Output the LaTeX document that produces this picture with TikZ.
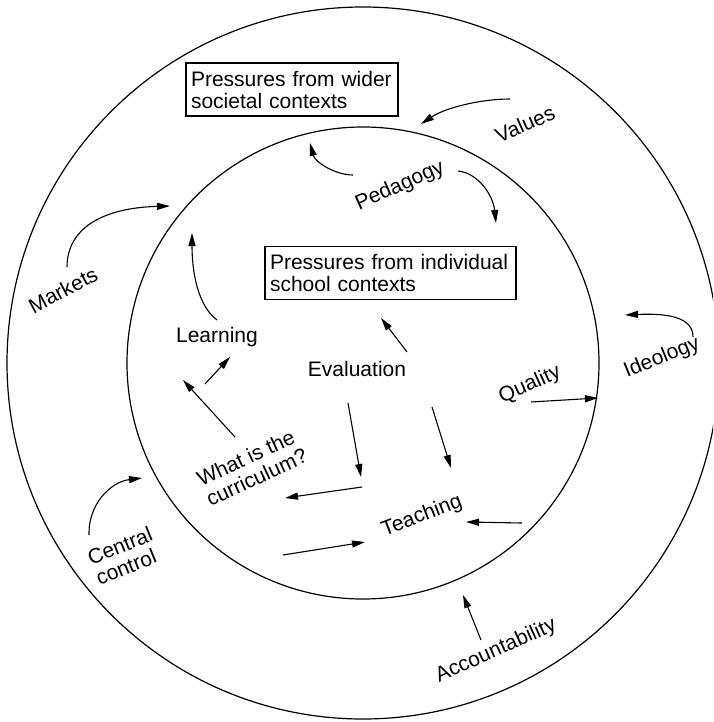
\documentclass[tikz,border=0pt]{standalone}
\usepackage{fontspec}
\setmainfont{Liberation Sans}
\usetikzlibrary{arrows.meta}
\begin{document}
\begin{tikzpicture}[x=1pt,y=-1pt,
  ring/.style={line width=1.2pt},
  lbl/.style={font=\fontsize{21}{22}\selectfont, inner sep=0pt},
  pbox/.style={lbl, draw, line width=1.1pt, align=left, inner xsep=5pt, inner ysep=0pt, minimum height=53pt},
  arr/.style={line width=1.1pt, -{Triangle[length=13pt,width=7pt]}},
]
\useasboundingbox (0,0) rectangle (713,722);
\clip (0,0) rectangle (713,722);

% circles
\coordinate (ctr) at (363,363);
\draw[ring] (ctr) circle[radius=356];
\draw[ring] (ctr) circle[radius=236];

% boxes
\node[pbox, text width=202pt] (wider) at (292,89.5) {Pressures from wider\\societal contexts};
\node[pbox, text width=241pt] (indiv) at (390.5,273) {Pressures from individual\\school contexts};

% labels
\node[lbl, rotate=24] (values) at (525,124) {Values};
\node[lbl, rotate=24] (pedagogy) at (400,186) {Pedagogy};
\node[lbl, rotate=28] (markets) at (63,290) {Markets};
\node[lbl] (learning) at (217,337) {Learning};
\node[lbl, rotate=22] (ideology) at (662,358) {Ideology};
\node[lbl] (evaluation) at (357,369) {Evaluation};
\node[lbl, rotate=25, align=left] (curriculum) at (252,467) {What is the\\curriculum?};
\node[lbl, rotate=21] (teaching) at (422,516) {Teaching};
\node[lbl, rotate=24] (quality) at (530,385) {Quality};
\node[lbl, rotate=24] (accountability) at (496,651) {Accountability};
\node[lbl, rotate=22, align=left] (central) at (124,556) {Central\\control};

% arrow end points
\coordinate (vT) at (510,99);   \coordinate (vH) at (421,124);
\coordinate (plT) at (353,175); \coordinate (plH) at (310,143);
\coordinate (prT) at (458,171); \coordinate (prH) at (496,223);
\coordinate (mT) at (67,267);   \coordinate (mH) at (170,206);
\coordinate (lT) at (217,320);  \coordinate (lH) at (192,233);
\coordinate (iT) at (693,337);  \coordinate (iH) at (625,315);
\coordinate (cT) at (89,535);   \coordinate (cH) at (142,478);
\coordinate (eT) at (407,352);  \coordinate (eH) at (381,318);
\coordinate (lsT) at (205,384); \coordinate (lsH) at (230,357);
\coordinate (cuT) at (235,437); \coordinate (cuH) at (183,380);
\coordinate (d1T) at (348,403); \coordinate (d1H) at (361,477);
\coordinate (d2T) at (432,407); \coordinate (d2H) at (451,468);
\coordinate (tlT) at (362,487); \coordinate (tlH) at (285,498);
\coordinate (btT) at (283,555); \coordinate (btH) at (365,542);
\coordinate (rtT) at (522,523); \coordinate (rtH) at (466,522);
\coordinate (qT) at (531,402);  \coordinate (qH) at (598,398);
\coordinate (aT) at (481,640);  \coordinate (aH) at (463,595);

% curved arrows
\draw[arr] (vT) .. controls (480,99) and (445,108) .. (vH);
\draw[arr] (plT) .. controls (335,175) and (315,162) .. (plH);
\draw[arr] (prT) .. controls (478,173) and (493,195) .. (prH);
\draw[arr] (mT) .. controls (67,230) and (100,208) .. (mH);
\draw[arr] (lT) .. controls (197,305) and (192,270) .. (lH);
\draw[arr] (iT) .. controls (693,318) and (670,313) .. (iH);
\draw[arr] (cT) .. controls (88,505) and (110,482) .. (cH);

% straight arrows
\draw[arr] (eT) -- (eH);
\draw[arr] (lsT) -- (lsH);
\draw[arr] (cuT) -- (cuH);
\draw[arr] (d1T) -- (d1H);
\draw[arr] (d2T) -- (d2H);
\draw[arr] (tlT) -- (tlH);
\draw[arr] (btT) -- (btH);
\draw[arr] (rtT) -- (rtH);
\draw[arr] (qT) -- (qH);
\draw[arr] (aT) -- (aH);
\end{tikzpicture}
\end{document}
